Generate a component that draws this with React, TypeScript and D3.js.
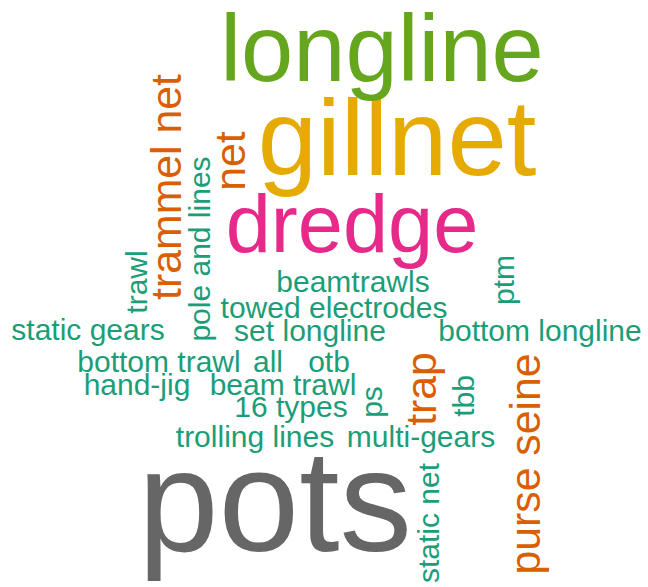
import React from 'react';
import * as d3 from 'd3';

// gear types and how often each one was reported
const words = [
  'pots', 'gillnet', 'longline', 'dredge',
  'trammel net', 'net', 'trap', 'purse seine',
  'trawl', 'pole and lines', 'ptm', 'ps', 'tbb', 'static net',
  'beamtrawls', 'towed electrodes', 'static gears', 'set longline', 'bottom longline',
  'bottom trawl', 'all', 'otb', 'hand-jig', 'beam trawl', '16 types',
  'trolling lines', 'multi-gears'
];
const freqs = [
  10, 7, 6, 5,
  2, 2, 2, 2,
  1, 1, 1, 1, 1, 1,
  1, 1, 1, 1, 1,
  1, 1, 1, 1, 1, 1,
  1, 1
];
// layout from the cloud: centre along the word, baseline across it
const layoutAlong = [
  275, 397, 382, 352,
  187, 161, 389, 464,
  282, 249, 280, 402, 396, 523,
  353, 334, 88, 310, 540,
  159, 268, 329, 137, 283, 291,
  255, 421
];
const layoutBase = [
  551, 175, 81, 252,
  181, 245, 436, 540,
  147, 210, 514, 382, 474, 439,
  292, 318, 340, 341, 341,
  372, 372, 372, 395, 395, 417,
  447, 447
];
const vertical = [
  false, false, false, false,
  true, true, true, true,
  true, true, true, true, true, true,
  false, false, false, false, false,
  false, false, false, false, false, false,
  false, false
];

const WIDTH = 648;
const HEIGHT = 587;

export default function App() {
  const x = d3.scaleLinear().domain([0, 648]).range([0, WIDTH]);
  const y = d3.scaleLinear().domain([0, 587]).range([0, HEIGHT]);
  const size = d3.scaleLinear().domain([1, 10]).range([30, 145]);
  const color = d3.scaleOrdinal<number, string>()
    .domain([1, 2, 5, 6, 7, 10])
    .range(['#1B9E77', '#D95F02', '#E7298A', '#66A61E', '#E6AB02', '#666666']);

  return (
    <svg width={WIDTH} height={HEIGHT}
      style={{ position: 'absolute', left: 0, top: 0, background: '#fff' }}
      fontFamily="'Liberation Sans', Arial, sans-serif">
      {words.map((w, i) => {
        const tr = vertical[i]
          ? `translate(${x(layoutBase[i])},${y(layoutAlong[i])}) rotate(-90)`
          : `translate(${x(layoutAlong[i])},${y(layoutBase[i])})`;
        return (
          <text key={w} transform={tr} textAnchor="middle"
            fontSize={size(freqs[i])} fill={color(freqs[i])}>
            {w}
          </text>
        );
      })}
    </svg>
  );
}
